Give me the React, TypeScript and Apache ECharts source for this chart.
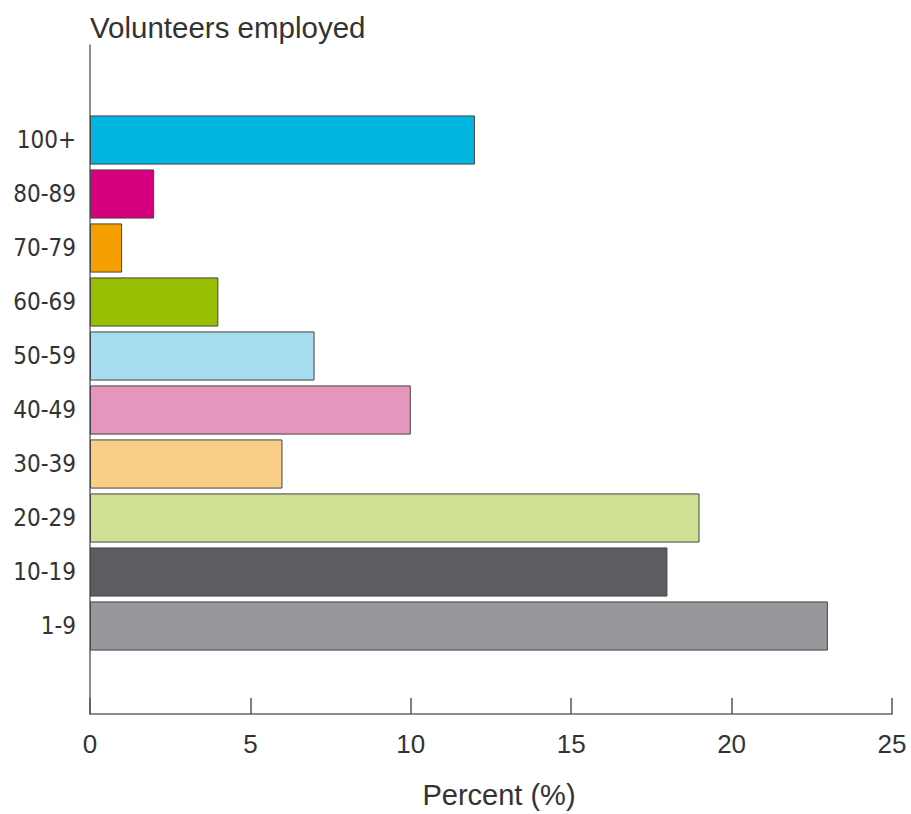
import React, { useEffect, useRef } from "react";
import * as echarts from "echarts";

const categories = ["1-9", "10-19", "20-29", "30-39", "40-49", "50-59", "60-69", "70-79", "80-89", "100+"];
const values = [23, 18, 19, 6, 10, 7, 4, 1, 2, 12];
const colors = ["#98979c", "#5d5c62", "#cfdf94", "#f9cf88", "#e695bd", "#a6dcf0", "#98be00", "#f5a000", "#d6007f", "#00b6e0"];
const xTicks = [0, 5, 10, 15, 20, 25];

const FONT = "'Liberation Sans', Roboto, sans-serif";
const NARROW = "'Liberation Sans Narrow', 'DejaVu Sans Condensed', sans-serif";

export default function App() {
  const ref = useRef<HTMLDivElement>(null);
  useEffect(() => {
    document.body.style.margin = "0";
    if (!ref.current) return;
    const chart = echarts.init(ref.current, null, { renderer: "svg" });
    chart.setOption({
      animation: false,
      backgroundColor: "#ffffff",
      title: {
        text: "Volunteers employed",
        left: 85,
        top: 7,
        textStyle: { fontFamily: FONT, fontWeight: "normal", fontSize: 29.5, color: "#333" },
      },
      grid: [
        { left: 90, right: 19, top: 45, bottom: 94 },
        { left: 90, right: 19, top: 113, bottom: 161 },
      ],
      xAxis: [
        {
          type: "value",
          gridIndex: 0,
          min: xTicks[0],
          max: xTicks[xTicks.length - 1],
          interval: 5,
          name: "Percent (%)",
          nameLocation: "middle",
          nameGap: 66,
          nameTextStyle: { fontFamily: FONT, fontSize: 29, color: "#333", padding: [0, 0, 0, 16] },
          axisLine: { show: true, lineStyle: { color: "#666", width: 1.5 } },
          axisTick: { show: true, inside: true, length: 16, lineStyle: { color: "#555", width: 1.5 } },
          axisLabel: { fontFamily: FONT, fontSize: 26, color: "#333", margin: 17 },
          splitLine: { show: false },
        },
        {
          type: "value",
          gridIndex: 1,
          min: xTicks[0],
          max: xTicks[xTicks.length - 1],
          show: false,
        },
      ],
      yAxis: [
        {
          type: "value",
          gridIndex: 0,
          min: 0,
          max: 1,
          axisLine: { show: true, lineStyle: { color: "#666", width: 1.5 } },
          axisTick: { show: false },
          axisLabel: { show: false },
          splitLine: { show: false },
        },
        {
          type: "category",
          gridIndex: 1,
          data: categories,
          axisLine: { show: false },
          axisTick: { show: false },
          axisLabel: { fontFamily: NARROW, fontSize: 24, color: "#333", margin: 14 },
        },
      ],
      series: [
        {
          type: "bar",
          xAxisIndex: 1,
          yAxisIndex: 1,
          barCategoryGap: "9%",
          data: values.map((v, i) => ({
            value: v,
            itemStyle: { color: colors[i], borderColor: "#444", borderWidth: 1 },
          })),
        },
      ],
    });
    return () => chart.dispose();
  }, []);
  return <div ref={ref} style={{ width: 911, height: 814 }} />;
}
